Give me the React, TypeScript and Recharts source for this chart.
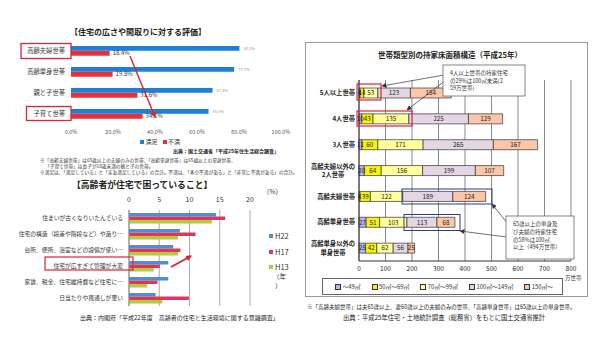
import React from 'react';
import { BarChart, Bar, XAxis, YAxis, CartesianGrid, LabelList, Legend } from 'recharts';

const FONT = '"Noto Sans CJK JP", "Noto Sans", sans-serif';

// ---------- Chart 1: 住宅の広さや間取りに対する評価 ----------
const evalCategories = ['高齢夫婦世帯', '高齢単身世帯', '親と子世帯', '子育て世帯'];
const satisfiedValues = [80.2, 77.7, 67.4, 65.5];
const dissatisfiedValues = [18.4, 19.8, 31.6, 34.1];
const evalTicks = [0, 20, 40, 60, 80, 100];
const evalSeries = ['満足', '不満'];

// ---------- Chart 2: 高齢者が住宅で困っていること ----------
const troubleCategories = [
  '住まいが古くなりいたんでいる',
  '住宅の構造（段差や階段など）や造り…',
  '台所、便所、浴室などの設備が使い…',
  '住宅が広すぎて管理が大変',
  '家賃、税金、住宅維持費など住宅に…',
  '日当たりや風通しが悪い',
];
const h22Values = [14.4, 8.4, 7.3, 6.5, 6.5, 4.4];
const h17Values = [15.9, 11.0, 8.5, 5.1, 4.7, 9.9];
const h13Values = [13.7, 8.1, 8.1, 4.1, 3.0, 5.5];
const troubleTicks = [0, 5, 10, 15, 20];
const troubleSeries = ['H22', 'H17', 'H13'];

// ---------- Chart 3: 世帯類型別の持家床面積構造 ----------
const householdCategories = [
  '5人以上世帯',
  '4人世帯',
  '3人世帯',
  '高齢夫婦以外の\n2人世帯',
  '高齢夫婦世帯',
  '高齢単身世帯',
  '高齢単身以外の\n単身世帯',
];
const areaUnder49 = [4, 10, 11, 20, 4, 27, 25];
const area50to69 = [14, 43, 60, 64, 39, 51, 42];
const area70to99 = [53, 135, 171, 156, 122, 103, 62];
const area100to149 = [123, 225, 265, 199, 189, 113, 56];
const area150over = [154, 129, 167, 107, 124, 68, 25];
const areaTicks = [0, 100, 200, 300, 400, 500, 600, 700, 800];
const areaLabels = ['～49㎡', '50㎡～69㎡', '70㎡～99㎡', '100㎡～149㎡', '150㎡～'];

const evalData = evalCategories.map((name, i) => ({
  name,
  satisfied: satisfiedValues[i],
  dissatisfied: dissatisfiedValues[i],
}));
const troubleData = troubleCategories.map((name, i) => ({
  name,
  h22: h22Values[i],
  h17: h17Values[i],
  h13: h13Values[i],
}));
const areaData = householdCategories.map((name, i) => ({
  name,
  a: areaUnder49[i],
  b: area50to69[i],
  c: area70to99[i],
  d: area100to149[i],
  e: area150over[i],
}));

const areaKeys = ['a', 'b', 'c', 'd', 'e'];
const areaColors = ['#b4b6e6', '#f8f400', '#ffff9c', '#e4d6e4', '#fcc6a8'];

const pct = (v: any) => `${Number(v).toFixed(1)}%`;
const plain = (v: any) => `${v}`;

const ordered = (payload: any[] = [], names: string[]) =>
  names.map((n) => payload.find((p: any) => p.value === n)).filter(Boolean);

const abs = (left: number, top: number, extra: React.CSSProperties = {}): React.CSSProperties => ({
  position: 'absolute',
  left,
  top,
  fontFamily: FONT,
  lineHeight: 1,
  whiteSpace: 'nowrap',
  margin: 0,
  ...extra,
});

const makeXTick = (fmt: (v: any) => string, fontSize: number, fill: string, dy: number) => (props: any) => (
  <text x={props.x} y={props.y} dy={dy} textAnchor="middle" fontSize={fontSize} fill={fill} fontFamily={FONT}>
    {fmt(props.payload.value)}
  </text>
);
const EvalXTick = makeXTick(pct, 5.5, '#555', 4.5);
const TroubleXTick = makeXTick(plain, 7, '#333', -0.5);
const AreaXTick = makeXTick(plain, 6.5, '#222', 6.3);

const EvalLegend = (props: any) => {
  const items = ordered(props.payload, evalSeries);
  return (
    <div style={{ display: 'flex', gap: 5, alignItems: 'center', fontSize: 6, color: '#333', fontFamily: FONT, lineHeight: 1 }}>
      {items.map((p: any) => (
        <span key={p.value} style={{ display: 'flex', alignItems: 'center', gap: 1.5 }}>
          <span style={{ width: 4, height: 4, background: p.color, display: 'inline-block' }} />
          {p.value}
        </span>
      ))}
    </div>
  );
};

const TroubleLegend = (props: any) => {
  const items = ordered(props.payload, troubleSeries);
  return (
    <div style={{ fontFamily: FONT, fontSize: 7.5, color: '#333', lineHeight: 1 }}>
      {items.map((p: any) => (
        <div key={p.value} style={{ display: 'flex', alignItems: 'center', gap: 2, height: 8, marginBottom: 7.5 }}>
          <span style={{ width: 4, height: 4, background: p.color, display: 'inline-block' }} />
          {p.value}
        </div>
      ))}
      <div style={{ paddingLeft: 4, height: 7, marginTop: -5.5, fontSize: 6.5 }}>（年</div>
      <div style={{ paddingLeft: 6, height: 7, marginTop: 1.5, fontSize: 6.5 }}>）</div>
    </div>
  );
};

const AreaLegend = (props: any) => {
  const items = ordered(props.payload, areaLabels);
  return (
    <div
      style={{
        boxSizing: 'border-box',
        width: 241,
        height: 17,
        border: '1px solid #666',
        display: 'flex',
        alignItems: 'center',
        gap: 11,
        paddingLeft: 12,
        fontFamily: FONT,
        fontSize: 5.8,
        color: '#333',
        background: '#fff',
        lineHeight: 1,
      }}
    >
      {items.map((p: any) => (
        <span key={p.value} style={{ display: 'flex', alignItems: 'center', gap: 1.5 }}>
          <span style={{ width: 4, height: 4, background: p.color, border: '0.8px solid #333', display: 'inline-block' }} />
          {p.value}
        </span>
      ))}
    </div>
  );
};

const HouseholdTick = (props: any) => {
  const { x, y, payload } = props;
  const lines = String(payload.value).split('\n');
  const common = { fontSize: 6.3, fontWeight: 700, fill: '#222', fontFamily: FONT } as any;
  if (lines.length === 1) {
    return (
      <text x={x} y={y} dy={2.2} textAnchor="end" {...common}>
        {lines[0]}
      </text>
    );
  }
  const cx = x - 22;
  return (
    <text x={cx} y={y} textAnchor="middle" {...common}>
      <tspan x={cx} dy={-1.8}>{lines[0]}</tspan>
      <tspan x={cx} dy={8.5}>{lines[1]}</tspan>
    </text>
  );
};

const Arrow = ({ x1, y1, x2, y2, color, w, id }: any) => (
  <line x1={x1} y1={y1} x2={x2} y2={y2} stroke={color} strokeWidth={w} markerEnd={`url(#${id})`} />
);

export default function App() {
  return (
    <div style={{ position: 'absolute', left: 0, top: 0, width: 600, height: 351, background: '#fff', overflow: 'hidden', fontFamily: FONT }}>
      {/* ---------- Chart 1 ---------- */}
      <div style={{ position: 'absolute', left: 0, top: 0 }}>
        <BarChart layout="vertical" width={300} height={140} data={evalData} margin={{ top: 40, right: 19, bottom: 0, left: 0 }} barGap={0}>
          <XAxis
            type="number"
            domain={[0, 100]}
            ticks={evalTicks}
            interval={0}
            axisLine={false}
            tickLine={false}
            tickSize={0}
            tickMargin={5}
            height={16}
            tick={<EvalXTick />}
          />
          <YAxis
            type="category"
            dataKey="name"
            width={71}
            axisLine={false}
            tickLine={false}
            tickSize={0}
            tickMargin={6}
            interval={0}
            tick={{ fontSize: 6.3, fill: '#333' }}
          />
          <Bar dataKey="satisfied" name="満足" fill="#1c7fd8" barSize={4.8} isAnimationActive={false}>
            <LabelList dataKey="satisfied" position="right" offset={4} formatter={pct} fontSize={4} fill="#999" />
          </Bar>
          <Bar dataKey="dissatisfied" name="不満" fill="#e8303a" barSize={5} isAnimationActive={false}>
            <LabelList dataKey="dissatisfied" position="right" offset={3} formatter={pct} fontSize={6} fill="#333" />
          </Bar>
          <Legend layout="horizontal" verticalAlign="middle" align="center" wrapperStyle={{ left: 140, top: 139, width: 50 }} content={<EvalLegend />} />
        </BarChart>
      </div>
      <div style={abs(70, 28, { fontSize: 8, fontWeight: 700, color: '#222' })}>【住宅の広さや間取りに対する評価】</div>
      <div style={abs(173, 147.5, { fontSize: 5, fontWeight: 700, color: '#222' })}>出典：国土交通省「平成25年住生活総合調査」</div>
      <div style={abs(40, 157.5, { fontSize: 4.7, color: '#333' })}>※「高齢夫婦世帯」は65歳以上の夫婦のみの世帯、「高齢単身世帯」は65歳以上の単身世帯、</div>
      <div style={abs(45, 163.5, { fontSize: 4.7, color: '#333' })}>「子育て世帯」は長子が18歳未満の親と子の世帯。</div>
      <div style={abs(40, 169.5, { fontSize: 4.7, color: '#333' })}>※満足は、「満足している」と「まあ満足している」の合計。不満は、「多少不満がある」と「非常に不満がある」の合計。</div>

      {/* ---------- Chart 2 ---------- */}
      <div style={{ position: 'absolute', left: 0, top: 175 }}>
        <BarChart layout="vertical" width={300} height={140} data={troubleData} margin={{ top: 23, right: 50, bottom: 9, left: 0 }} barGap={0}>
          <CartesianGrid horizontal={false} stroke="#aaa" />
          <XAxis
            type="number"
            orientation="top"
            domain={[0, 20]}
            ticks={troubleTicks}
            interval={0}
            axisLine={false}
            tickLine={false}
            height={12}
            tick={<TroubleXTick />}
          />
          <YAxis
            type="category"
            dataKey="name"
            width={129}
            axisLine={{ stroke: '#888' }}
            tickLine={false}
            tickSize={0}
            tickMargin={6}
            interval={0}
            tick={{ fontSize: 5.8, fill: '#333' }}
          />
          <Bar dataKey="h22" name="H22" fill="#4a8fd8" barSize={3.5} isAnimationActive={false} />
          <Bar dataKey="h17" name="H17" fill="#d83a5c" barSize={3.5} isAnimationActive={false} />
          <Bar dataKey="h13" name="H13" fill="#b6c83c" barSize={3.5} isAnimationActive={false} />
          <Legend layout="vertical" verticalAlign="middle" align="center" wrapperStyle={{ left: 269, top: 57, width: 30 }} content={<TroubleLegend />} />
        </BarChart>
      </div>
      <div style={abs(72, 180.5, { fontSize: 8.8, fontWeight: 700, color: '#222' })}>【高齢者が住宅で困っていること】</div>
      <div style={abs(263, 187.5, { fontSize: 6.5, color: '#333' })}>（%）</div>
      <div style={abs(80, 315, { fontSize: 6, color: '#222' })}>出典：内閣府「平成22年度　高齢者の住宅と生活環境に関する意識調査」</div>

      {/* ---------- Chart 3 ---------- */}
      <div style={{ position: 'absolute', left: 305, top: 42, width: 283, height: 255, boxSizing: 'border-box', border: '1px solid #999' }} />
      <div style={{ position: 'absolute', left: 305, top: 42 }}>
        <BarChart layout="vertical" width={283} height={255} data={areaData} margin={{ top: 38, right: 17, bottom: 22, left: 0 }}>
          <CartesianGrid horizontal={false} stroke="#888" />
          <XAxis
            type="number"
            domain={[0, 800]}
            ticks={areaTicks}
            interval={0}
            axisLine={{ stroke: '#333' }}
            tickLine={false}
            tickSize={3}
            tickMargin={1}
            height={14}
            tick={<AreaXTick />}
          />
          <XAxis xAxisId="top" type="number" orientation="top" domain={[0, 800]} height={0} tick={false} tickLine={false} axisLine={{ stroke: '#888' }} />
          <YAxis
            type="category"
            dataKey="name"
            width={54}
            axisLine={{ stroke: '#333' }}
            tickLine={false}
            tickSize={0}
            tickMargin={4}
            interval={0}
            tick={<HouseholdTick />}
          />
          {areaKeys.map((k, i) => (
            <Bar key={k} dataKey={k} name={areaLabels[i]} stackId="s" fill={areaColors[i]} stroke="#333" strokeWidth={0.7} barSize={10} isAnimationActive={false}>
              <LabelList dataKey={k} position="center" fontSize={6.3} fill="#222" />
            </Bar>
          ))}
          <Legend layout="horizontal" verticalAlign="middle" align="center" wrapperStyle={{ left: 17, top: 236, width: 241 }} content={<AreaLegend />} />
        </BarChart>
      </div>
      <div style={abs(350, 51, { width: 200, textAlign: 'center', fontSize: 7.5, fontWeight: 700, color: '#222' })}>世帯類型別の持家床面積構造（平成25年）</div>
      <div style={abs(565, 276, { fontSize: 5.5, color: '#333' })}>万世帯</div>
      <div style={abs(307, 304.5, { fontSize: 5.5, color: '#222' })}>※「高齢夫婦世帯」は夫65歳以上、妻60歳以上の夫婦のみの世帯、「高齢単身世帯」は65歳以上の単身世帯。</div>
      <div style={abs(343, 315, { fontSize: 6.3, color: '#222' })}>出典：平成25年住宅・土地統計調査（総務省）をもとに国土交通省推計</div>

      {/* ---------- Annotations ---------- */}
      <svg width={600} height={351} style={{ position: 'absolute', left: 0, top: 0, pointerEvents: 'none' }}>
        <defs>
          <marker id="redHead" markerWidth="6" markerHeight="6" refX="5" refY="3" orient="auto" markerUnits="userSpaceOnUse">
            <path d="M0,0 L6,3 L0,6 Z" fill="#e0202a" />
          </marker>
          <marker id="grayHead" markerWidth="5" markerHeight="5" refX="4.5" refY="2.5" orient="auto" markerUnits="userSpaceOnUse">
            <path d="M0,0 L5,2.5 L0,5 Z" fill="#333" />
          </marker>
        </defs>
        <rect x={21} y={43.5} width={50} height={15} fill="none" stroke="#d8263a" strokeWidth={1.3} />
        <rect x={26.5} y={106.5} width={44.5} height={14} fill="none" stroke="#d8263a" strokeWidth={1.3} />
        <Arrow x1={130} y1={56} x2={155} y2={117} color="#e0202a" w={1.4} id="redHead" />
        <rect x={45} y={257} width={88} height={13} fill="none" stroke="#d8263a" strokeWidth={1.2} />
        <Arrow x1={171} y1={267} x2={191} y2={256} color="#e0202a" w={1.8} id="redHead" />
        <rect x={357} y={84} width={24} height={16} fill="none" stroke="#d8263a" strokeWidth={1.2} />
        <rect x={357} y={111} width={55} height={15} fill="none" stroke="#d8263a" strokeWidth={1.2} />
        <rect x={402} y={189} width={90} height={15} fill="none" stroke="#2b3a8a" strokeWidth={1} />
        <rect x={404} y={214.5} width={56} height={16} fill="none" stroke="#2b3a8a" strokeWidth={1} />
        <Arrow x1={444} y1={75} x2={382} y2={86} color="#333" w={0.7} id="grayHead" />
        <Arrow x1={446} y1={80} x2={407} y2={110} color="#333" w={0.7} id="grayHead" />
        <rect x={443} y={65} width={82} height={31} fill="#fff" stroke="#666" strokeWidth={0.8} />
        <text x={450} y={75} fontSize={5.5} fill="#333" fontFamily={FONT}>4人以上世帯の持家住宅</text>
        <text x={450} y={82.5} fontSize={5.5} fill="#333" fontFamily={FONT}>の29%は100㎡未満(2</text>
        <text x={450} y={90} fontSize={5.5} fill="#333" fontFamily={FONT}>59万世帯)</text>
        <Arrow x1={508} y1={224} x2={492} y2={204} color="#333" w={0.7} id="grayHead" />
        <Arrow x1={507} y1={237} x2={460} y2={231} color="#333" w={0.7} id="grayHead" />
        <rect x={506} y={216} width={68} height={43} fill="#fff" stroke="#666" strokeWidth={0.8} />
        <text x={513} y={226} fontSize={5.5} fill="#333" fontFamily={FONT}>65歳以上の単身及</text>
        <text x={513} y={234} fontSize={5.5} fill="#333" fontFamily={FONT}>び夫婦の持家住宅</text>
        <text x={513} y={241.5} fontSize={5.5} fill="#333" fontFamily={FONT}>の58%は100㎡</text>
        <text x={513} y={249} fontSize={5.5} fill="#333" fontFamily={FONT}>以上（494万世帯）</text>
      </svg>
    </div>
  );
}
